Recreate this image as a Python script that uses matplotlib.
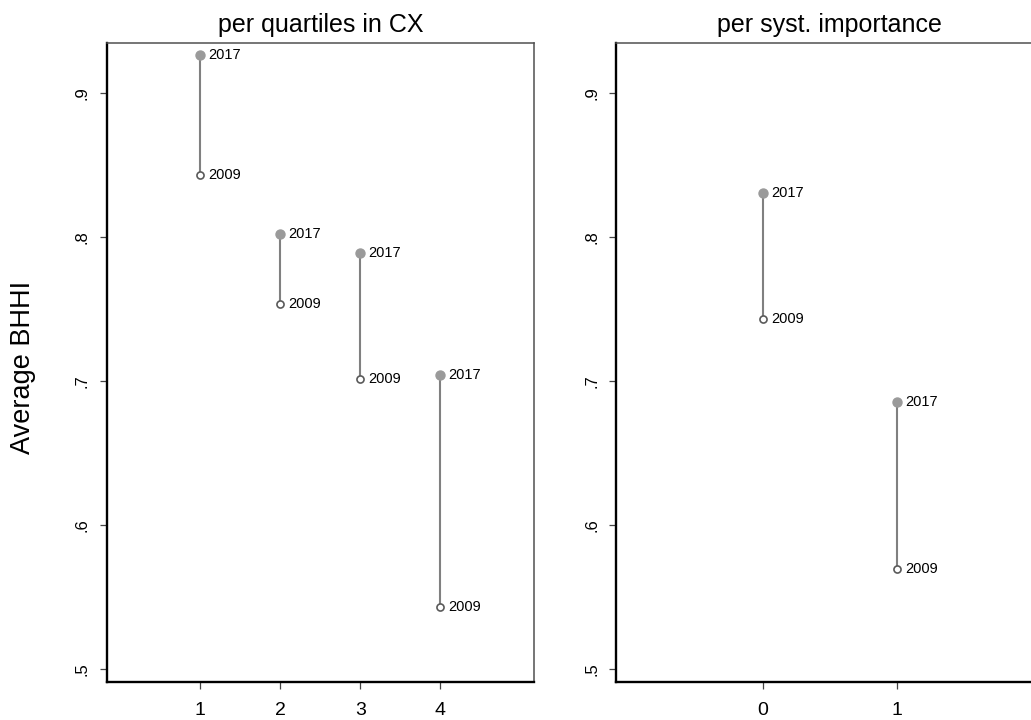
import matplotlib
matplotlib.use("Agg")
import matplotlib.pyplot as plt

# ---- data ----
quartiles = [1, 2, 3, 4]
q_2009 = [0.843, 0.753, 0.701, 0.543]
q_2017 = [0.926, 0.802, 0.789, 0.704]

syst = [0, 1]
s_2009 = [0.743, 0.569]
s_2017 = [0.830, 0.685]

yticks = [0.5, 0.6, 0.7, 0.8, 0.9]
ytick_labels = [".5", ".6", ".7", ".8", ".9"]
titles = ["per quartiles in CX", "per syst. importance"]
ylabel = "Average BHHI"
year_lo, year_hi = "2009", "2017"

plt.rcParams['font.family'] = ['Liberation Sans', 'DejaVu Sans']

W, H = 1031, 720
fig = plt.figure(figsize=(W / 100, H / 100), dpi=100)

def px_axes(x0, y_top, w, h):
    return fig.add_axes([x0 / W, 1 - (y_top + h) / H, w / W, h / H])

ax1 = px_axes(106.5, 42.7, 427.5, 639)
ax2 = px_axes(616, 42.7, 427.5, 639)

line_col = '#808080'
fill_col = '#9a9a9a'
hollow_col = '#5a5a5a'

def draw(ax, xs, lo, hi, xlim, title):
    ax.vlines(xs, lo, hi, color=line_col, lw=1.5, zorder=2)
    ax.scatter(xs, hi, s=42, color=fill_col, edgecolors=fill_col, zorder=3)
    ax.scatter(xs, lo, s=26, facecolors='white', edgecolors=hollow_col,
               linewidths=1.2, zorder=3)
    for x, a, b in zip(xs, lo, hi):
        ax.annotate(year_hi, (x, b), xytext=(6.0, 0), textcoords='offset points',
                    ha='left', va='center', fontsize=10.5, color='black')
        ax.annotate(year_lo, (x, a), xytext=(6.0, 0), textcoords='offset points',
                    ha='left', va='center', fontsize=10.5, color='black')
    ax.set_xlim(*xlim)
    ax.set_ylim(0.491, 0.9347)
    ax.set_xticks(xs)
    ax.set_xticklabels([str(x) for x in xs])
    ax.set_yticks(yticks)
    ax.set_yticklabels(ytick_labels, rotation=90, va='center')
    ax.tick_params(axis='x', length=5, width=0.9, color='#444444',
                   labelsize=14, pad=9.5)
    ax.tick_params(axis='y', length=5, width=0.9, color='#444444',
                   labelsize=12, pad=7)
    for side in ['left', 'bottom']:
        ax.spines[side].set_linewidth(1.7)
        ax.spines[side].set_color('black')
    for side in ['top', 'right']:
        ax.spines[side].set_linewidth(1.1)
        ax.spines[side].set_color('#505050')
    ax.set_title(title, fontsize=18, pad=8)

draw(ax1, quartiles, q_2009, q_2017, (-0.174, 5.174), titles[0])
draw(ax2, syst, s_2009, s_2017, (-1.095, 2.095), titles[1])

ax1.set_ylabel(ylabel, fontsize=19.5, va='center')
ax1.yaxis.set_label_coords((23 - 106.5) / 427.5, 0.5 - 5 / 639)

fig.savefig("out.png", dpi=100)
